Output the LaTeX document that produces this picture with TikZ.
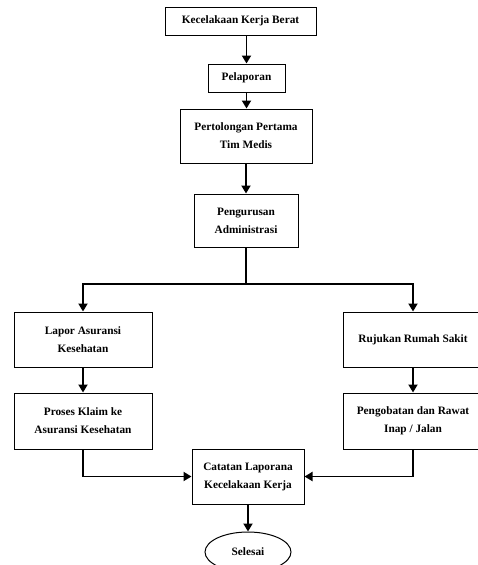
\documentclass[tikz,border=0pt]{standalone}
\usepackage{fontspec}
\setmainfont{Liberation Serif}
\usetikzlibrary{arrows.meta, positioning, shapes.geometric}
\tikzset{
  box/.style={rectangle, draw=black, fill=white, align=center, inner sep=0pt,
    line width=1pt, font=\bfseries\fontsize{11.3}{18}\selectfont},
  endnode/.style={ellipse, draw=black, fill=white, inner sep=0pt,
    minimum width=86pt, minimum height=40pt, line width=1pt,
    font=\bfseries\fontsize{11.3}{18}\selectfont},
  arrow/.style={-{Triangle[length=8pt,width=9pt]}, line width=1.8pt},
  line/.style={line width=1.8pt}
}

\begin{document}
\begin{tikzpicture}[x=1pt, y=-1pt]
  \clip (0,0) rectangle (478,565);
  \node[box, minimum width=151pt, minimum height=28pt] (kecelakaan) at (240.5,21) {Kecelakaan Kerja Berat};
  \node[box, minimum width=77pt, minimum height=28pt] (pelaporan) at (246.5,78) {Pelaporan};
  \node[box, minimum width=132pt, minimum height=54pt] (pertolongan) at (246,136) {Pertolongan Pertama\\Tim Medis};
  \node[box, minimum width=104pt, minimum height=53pt] (administrasi) at (246,220.5) {Pengurusan\\Administrasi};
  \coordinate (cabang) at (246,284);
  \node[box, minimum width=138pt, minimum height=55pt] (asuransi) at (83,339.5) {Lapor Asuransi\\Kesehatan};
  \node[box, minimum width=140pt, minimum height=55pt] (rujukan) at (413,339.5) {Rujukan Rumah Sakit};
  \node[box, minimum width=138pt, minimum height=56pt] (klaim) at (83,421) {Proses Klaim ke\\Asuransi Kesehatan};
  \node[box, minimum width=140pt, minimum height=56pt] (pengobatan) at (413,421) {Pengobatan dan Rawat\\Inap / Jalan};
  \node[box, minimum width=112pt, minimum height=55pt] (catatan) at (248,476.5) {Catatan Laporana\\Kecelakaan Kerja};
  \node[endnode, below=27pt of catatan] (selesai) {Selesai};

  \draw[arrow] (pelaporan.north |- kecelakaan.south) -- (pelaporan.north);
  \draw[arrow] (pelaporan.south) -- (pelaporan.south |- pertolongan.north);
  \draw[arrow] (pertolongan.south) -- (administrasi.north);
  \draw[line] (administrasi.south) -- (cabang);
  \draw[arrow] (cabang) -| (asuransi.north);
  \draw[arrow] (cabang) -| (rujukan.north);
  \draw[arrow] (asuransi.south) -- (klaim.north);
  \draw[arrow] (rujukan.south) -- (pengobatan.north);
  \draw[arrow] (klaim.south) |- (catatan.west);
  \draw[arrow] (pengobatan.south) |- (catatan.east);
  \draw[arrow] (catatan.south) -- (selesai.north);
\end{tikzpicture}
\end{document}
